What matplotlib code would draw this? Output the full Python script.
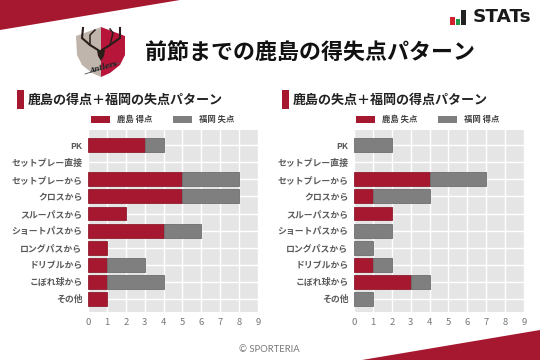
import matplotlib
matplotlib.use('Agg')
import matplotlib.pyplot as plt
from matplotlib.patches import Polygon, Rectangle

plt.rcParams['font.family'] = ['Noto Sans CJK JP', 'DejaVu Sans']

# daten
kategorien = ['PK', 'セットプレー直接', 'セットプレーから', 'クロスから', 'スルーパスから',
              'ショートパスから', 'ロングパスから', 'ドリブルから', 'こぼれ球から', 'その他']
kashima_tokuten = [3, 0, 5, 5, 2, 4, 1, 1, 1, 1]
fukuoka_shitten = [1, 0, 3, 3, 0, 2, 0, 2, 3, 0]
kashima_shitten = [0, 0, 4, 1, 2, 0, 0, 1, 3, 0]
fukuoka_tokuten = [2, 0, 3, 3, 0, 2, 1, 1, 1, 1]

titel = '前節までの鹿島の得失点パターン'
titel_links = '鹿島の得点＋福岡の失点パターン'
titel_rechts = '鹿島の失点＋福岡の得点パターン'
legende_links = ['鹿島 得点', '福岡 失点']
legende_rechts = ['鹿島 失点', '福岡 得点']

ROT = '#a6182f'
GRAU = '#7f7f7f'
DUNKEL = '#2a1d1a'
W, H = 540, 360

fig = plt.figure(figsize=(5.4, 3.6), dpi=100, facecolor='white')

# hintergrund ebene in pixeln
bg = fig.add_axes([0, 0, 1, 1])
bg.set_xlim(0, W)
bg.set_ylim(H, 0)
bg.axis('off')
bg.add_patch(Polygon([(0, 0), (180, 0), (0, 30)], color=ROT, lw=0))
bg.add_patch(Polygon([(540, 330), (540, 360), (362, 360)], color=ROT, lw=0))

# wappen
bg.add_patch(Polygon([(76, 36), (101, 27), (101, 77), (92, 73), (82, 65), (77, 55)], color='#c0b5ac', lw=0))
bg.add_patch(Polygon([(101, 27), (125, 36), (125, 55), (120, 65), (110, 73), (101, 77)], color='#b7163a', lw=0))
bg.plot([98, 90, 82, 83], [50, 45, 38, 28], color=DUNKEL, lw=1.5)
bg.plot([102, 110, 120, 120], [50, 45, 38, 28], color=DUNKEL, lw=1.5)
bg.plot([90, 90, 95], [45, 35, 30], color=DUNKEL, lw=1.1)
bg.plot([110, 113, 110], [45, 33, 29], color=DUNKEL, lw=1.1)
bg.add_patch(Polygon([(97, 50), (105, 50), (104, 56), (101, 61), (98, 56)], color=DUNKEL, lw=0))
bg.plot([85, 119], [74, 63], color='#555555', lw=0.6)
bg.text(104, 67, 'Antlers', fontsize=5, fontstyle='italic', fontweight='bold', color='#222222',
        family='DejaVu Serif', rotation=15, ha='center', va='center')

# stats logo
bg.add_patch(Rectangle((450, 17), 5, 8, color='#d0202e', lw=0))
bg.add_patch(Rectangle((456, 19), 4, 6, color='#1f9a4a', lw=0))
bg.add_patch(Rectangle((461, 10), 4.5, 15, color='#222222', lw=0))
bg.text(473, 17.5, 'STATs', fontsize=13.2, fontweight='bold', color='#1a1a1a',
        family='DejaVu Sans', va='center', ha='left')

bg.text(309.5, 53, titel, fontsize=15.8, fontweight='bold', color='#111111', ha='center', va='center')
bg.text(269, 350, '© SPORTERIA', fontsize=6.8, color='#777777', ha='center', va='center', family='Lato')


def panel(links, ueber, werte_rot, werte_grau, leg, balken_x, text_x):
    # titel mit balken
    bg.add_patch(Rectangle((balken_x, 90), 7, 19, color=ROT, lw=0))
    bg.text(text_x, 99.5, ueber, fontsize=9.4, fontweight='bold', color='#222222', va='center', ha='left')

    # legende
    lx = balken_x + 74
    bg.add_patch(Rectangle((lx, 116), 19, 7, color=ROT, lw=0))
    bg.text(lx + 26, 119.5, leg[0], fontsize=6, fontweight='bold', color='#444444', va='center')
    bg.add_patch(Rectangle((lx + 82, 116), 19, 7, color=GRAU, lw=0))
    bg.text(lx + 108, 119.5, leg[1], fontsize=6, fontweight='bold', color='#444444', va='center')

    ax = fig.add_axes([links / W, 1 - 312 / H, 170 / W, 182 / H])
    ax.set_facecolor('#e5e5e5')
    y = list(range(len(kategorien)))
    rot = ax.barh(y, werte_rot, height=0.82, color=ROT, edgecolor='#8d1c2e', linewidth=0.6, zorder=3)
    grau = ax.barh(y, werte_grau, left=werte_rot, height=0.82, color=GRAU, edgecolor='#6e6e6e', linewidth=0.6, zorder=3)
    # balken mit 0 nicht zeichnen
    for b in list(rot) + list(grau):
        if b.get_width() == 0:
            b.set_visible(False)
    ax.set_xlim(0, 9)
    ax.set_ylim(len(kategorien) - 0.22, -0.9)
    ax.set_yticks(y)
    ax.set_yticklabels(kategorien, fontsize=6.4, fontweight='bold', color='#5a5a5a')
    ax.set_xticks(range(10))
    ax.tick_params(axis='x', labelsize=6.8, labelcolor='#777777', length=0, pad=4)
    ax.tick_params(axis='y', length=0, pad=4)
    ax.grid(True, color='white', linewidth=1, zorder=1)
    ax.set_axisbelow(True)
    for s in ax.spines.values():
        s.set_visible(False)


panel(88, titel_links, kashima_tokuten, fukuoka_shitten, legende_links, 17, 28)
panel(354, titel_rechts, kashima_shitten, fukuoka_tokuten, legende_rechts, 282, 293)

fig.savefig('out.png', dpi=100)
